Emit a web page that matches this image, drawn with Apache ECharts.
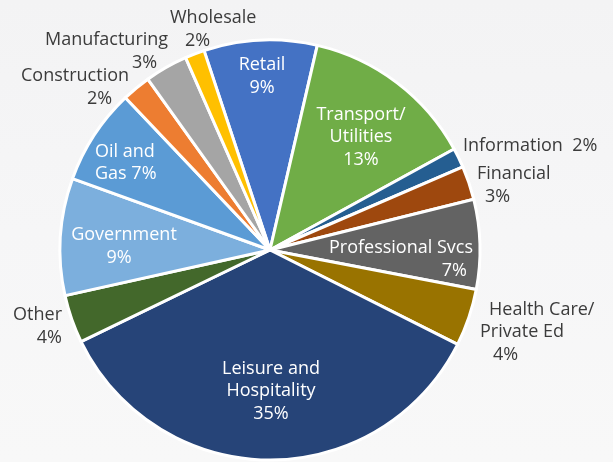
<!DOCTYPE html>
<html>
<head>
<meta charset="utf-8">
<script src="https://cdn.jsdelivr.net/npm/echarts@6/dist/echarts.min.js"></script>
<style>
html,body{margin:0;padding:0;}
body{background:linear-gradient(180deg,#f3f3f4 0%,#f6f6f7 50%,#f8f8f8 100%);}
#c{width:613px;height:462px;}
</style>
</head>
<body>
<div id="c"></div>
<script>
const names = ['Retail','Transport/\nUtilities','Information','Financial','Professional Svcs','Health Care/\nPrivate Ed','Leisure and\nHospitality','Other','Government','Oil and\nGas','Construction','Manufacturing','Wholesale'];
const values = [8.7, 13.4, 1.5, 2.6, 6.9, 4.4, 35.4, 3.7, 9.0, 7.4, 2.2, 3.3, 1.5];
const pctLabels = ['9%','13%','2%','3%','7%','4%','35%','4%','9%','7%','2%','3%','2%'];
const pctSep = ['\n','\n','  ','\n','\n','\n','\n','\n','\n',' ','\n','\n','\n'];
const colors = ['#4472C4','#70AD47','#255E91','#9E480E','#636363','#997300','#264478','#43682B','#7CAFDD','#5B9BD5','#ED7D31','#A5A5A5','#FFC000'];
const inside = [true,true,false,false,true,false,true,false,true,true,false,false,false];

const labelSpec = [
  {x:262,y:54,align:'center',pad:[0,0,0]},
  {x:361,y:104,align:'center',pad:[0,0,0]},
  {x:463,y:135,align:'left',pad:[0,0,0]},
  {x:477,y:163,align:'left',pad:[0,0,8]},
  {x:473,y:237,align:'right',pad:[0,0,6]},
  {x:480,y:299,align:'left',pad:[9,0,13]},
  {x:271,y:358,align:'center',pad:[0,0,0]},
  {x:62,y:304,align:'right',pad:[0,0,0]},
  {x:124,y:224,align:'center',pad:[0,0,10]},
  {x:95,y:141,align:'left',pad:[0,0,0]},
  {x:21,y:65,align:'left',pad:[0,0,66]},
  {x:45,y:29,align:'left',pad:[0,0,87]},
  {x:170,y:7,align:'left',pad:[0,0,15]}
];

function padArr(align, v){ return align === 'left' ? [0,0,0,v] : [0,v,0,0]; }

const data = names.map(function(n, i){
  const spec = labelSpec[i];
  const lines = n.split('\n');
  let parts = lines.map(function(l, k){
    return '{n' + k + '|' + l + (k === lines.length - 1 && pctSep[i] !== '\n' ? pctSep[i] + pctLabels[i] : '') + '}';
  });
  let text = parts.join('\n');
  if (pctSep[i] === '\n') text += '\n{p|' + pctLabels[i] + '}';
  const col = inside[i] ? '#ffffff' : '#3b3b3b';
  const base = {fontFamily:'Open Sans', fontSize:18, color:col, align:spec.align};
  const rich = {
    n0: Object.assign({}, base, {lineHeight:22, padding:padArr(spec.align, spec.pad[0])}),
    n1: Object.assign({}, base, {lineHeight:22, padding:padArr(spec.align, spec.pad[1])}),
    p: Object.assign({}, base, {lineHeight:24, padding:padArr(spec.align, spec.pad[2])})
  };
  return {
    name: n, value: values[i],
    itemStyle: {color: colors[i]},
    label: {formatter: text, rich: rich, color: col}
  };
});

const chart = echarts.init(document.getElementById('c'), null, {renderer:'canvas'});
chart.setOption({
  backgroundColor: 'transparent',
  animation: false,
  series: [{
    type: 'pie',
    center: [270, 250],
    radius: 210,
    startAngle: 108.3,
    clockwise: true,
    silent: true,
    itemStyle: {borderColor: '#ffffff', borderWidth: 3},
    label: {show: true, position: 'inside', fontFamily: 'Open Sans', fontSize: 18},
    labelLine: {show: false},
    emphasis: {disabled: true},
    labelLayout: function(params){
      const s = labelSpec[params.dataIndex];
      return {x: s.x, y: s.y, align: s.align, verticalAlign: 'top', hideOverlap: false, moveOverlap: null};
    },
    data: data
  }]
});
</script>
</body>
</html>
